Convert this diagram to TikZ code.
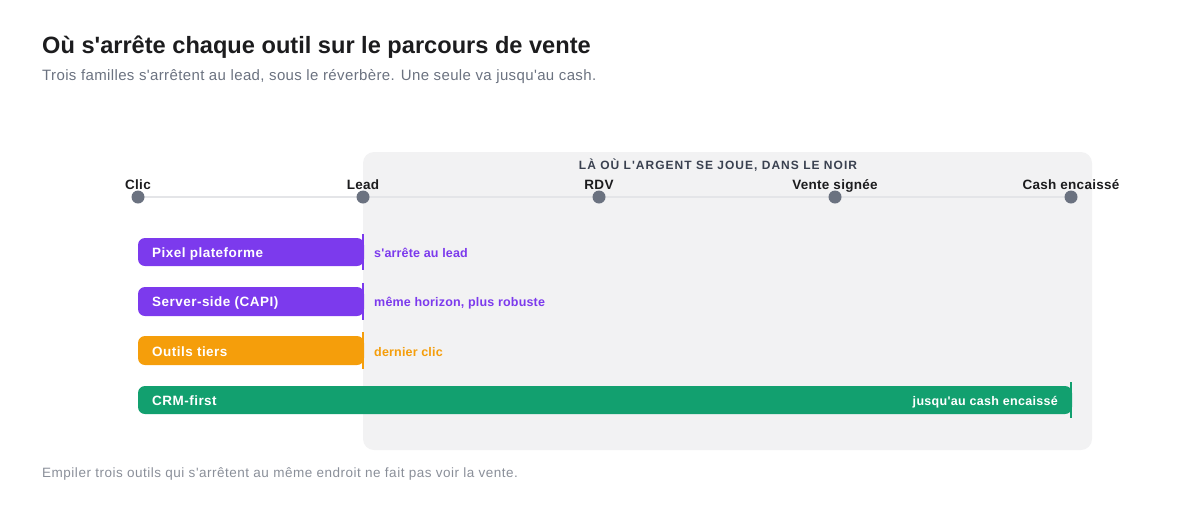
\documentclass[tikz,border=0pt]{standalone}
\usepackage{fontspec}
\setmainfont{Liberation Sans}[Ligatures=TeXOff]
\definecolor{ink}{HTML}{1C1C1E}
\definecolor{muted}{HTML}{6B7280}
\definecolor{foot}{HTML}{8A8F99}
\definecolor{panel}{HTML}{F2F2F3}
\definecolor{rail}{HTML}{E4E5E8}
\definecolor{dotc}{HTML}{6B7280}
\definecolor{hdr}{HTML}{3A4150}
\definecolor{purp}{HTML}{7C3AED}
\definecolor{oran}{HTML}{F59E0B}
\definecolor{gren}{HTML}{12A06F}
\tikzset{
  lbl/.style={inner sep=0pt, anchor=base, font=\fontsize{13.5}{15}\selectfont\bfseries\addfontfeatures{LetterSpace=2}, text=ink},
  stage/.style={circle, fill=dotc, minimum size=13pt, inner sep=0pt},
  bartxt/.style={inner sep=0pt, anchor=base west, font=\fontsize{13.5}{15}\selectfont\bfseries\addfontfeatures{LetterSpace=3.5}, text=white},
  note/.style={inner sep=0pt, anchor=base west, font=\fontsize{12.5}{14}\selectfont\bfseries\addfontfeatures{LetterSpace=1.5}},
  tick/.style={line width=2pt}
}
\begin{document}
\begin{tikzpicture}[x=1pt,y=-1pt]
\useasboundingbox (0,0) rectangle (1200,504);
% titles
\node[inner sep=0pt, anchor=base west, font=\fontsize{23.6}{26}\selectfont\bfseries, text=ink] (title) at (42,53) {Où s'arrête chaque outil sur le parcours de vente};
\node[inner sep=0pt, anchor=base west, font=\fontsize{15}{17}\selectfont\addfontfeatures{LetterSpace=2.5}, text=muted] (sub) at (42,80) {Trois familles s'arrêtent au lead, sous le réverbère. Une seule va jusqu'au cash.};
% panel
\fill[panel, rounded corners=11pt] (363,152) rectangle (1092,450);
\node[inner sep=0pt, anchor=base, font=\fontsize{12}{14}\selectfont\bfseries\addfontfeatures{LetterSpace=8.5}, text=hdr] (hdr) at (718,169) {LÀ OÙ L'ARGENT SE JOUE, DANS LE NOIR};
% rail
\coordinate (r0) at (138,197);
\coordinate (r1) at (363,197);
\coordinate (r2) at (599,197);
\coordinate (r3) at (835,197);
\coordinate (r4) at (1071,197);
\draw[rail, line width=2pt] (r0) -- (r4);
\node[stage] (s0) at (r0) {};
\node[stage] (s1) at (r1) {};
\node[stage] (s2) at (r2) {};
\node[stage] (s3) at (r3) {};
\node[stage] (s4) at (r4) {};
\node[lbl] (l0) at (138,189) {Clic};
\node[lbl] (l1) at (363,189) {Lead};
\node[lbl] (l2) at (599,189) {RDV};
\node[lbl] (l3) at (835,189) {Vente signée};
\node[lbl] (l4) at (1071,189) {Cash encaissé};
% bars
\fill[purp, rounded corners=7pt] (138,238) rectangle (364,266);
\draw[purp, tick] (363,234) -- (363,270);
\node[bartxt] (b1) at (152,257) {Pixel plateforme};
\node[note, text=purp] (n1) at (374,257) {s'arrête au lead};
\fill[purp, rounded corners=7pt] (138,287) rectangle (364,316);
\draw[purp, tick] (363,283) -- (363,320);
\node[bartxt] (b2) at (152,306) {Server-side (CAPI)};
\node[note, text=purp] (n2) at (374,306) {même horizon, plus robuste};
\fill[oran, rounded corners=7pt] (138,336) rectangle (364,365);
\draw[oran, tick] (363,332) -- (363,369);
\node[bartxt] (b3) at (152,356) {Outils tiers};
\node[note, text=oran] (n3) at (374,356) {dernier clic};
\fill[gren, rounded corners=7pt] (138,386) rectangle (1072,414);
\draw[gren, tick] (1071,382) -- (1071,418);
\node[bartxt] (b4) at (152,405) {CRM-first};
\node[inner sep=0pt, anchor=base east, font=\fontsize{12.5}{14}\selectfont\bfseries\addfontfeatures{LetterSpace=2.5}, text=white] (n4) at (1058,405) {jusqu'au cash encaissé};
% footer
\node[inner sep=0pt, anchor=base west, font=\fontsize{13.5}{15}\selectfont\addfontfeatures{LetterSpace=3.8}, text=foot] (foot) at (42,477) {Empiler trois outils qui s'arrêtent au même endroit ne fait pas voir la vente.};
\end{tikzpicture}
\end{document}
